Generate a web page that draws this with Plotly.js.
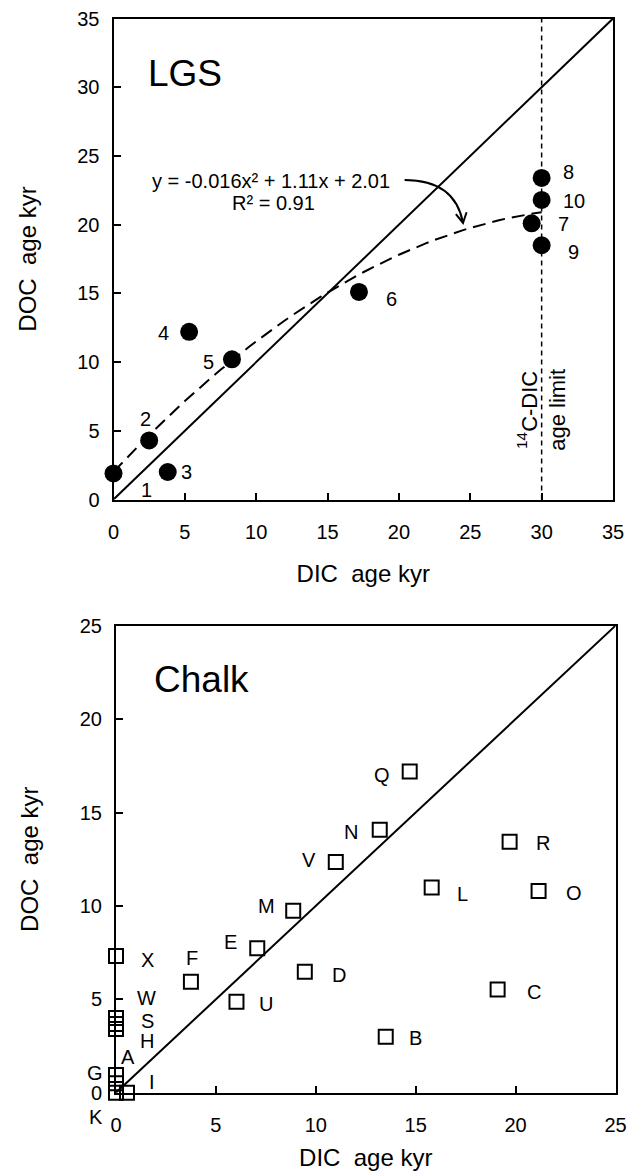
<!DOCTYPE html>
<html>
<head>
<meta charset="utf-8">
<script src="https://cdn.plot.ly/plotly-3.0.1.min.js"></script>
<style>
  html, body { margin: 0; padding: 0; background: #fff; }
  #chart { width: 640px; height: 1176px; }
</style>
</head>
<body>
<div id="chart"></div>
<script>
// LGS samples: DIC vs DOC radiocarbon ages (kyr)
const lgsNames = ['1', '2', '3', '4', '5', '6', '7', '8', '9', '10'];
const lgsDIC = [0, 2.5, 3.8, 5.3, 8.3, 17.2, 29.3, 30, 30, 30];
const lgsDOC = [1.9, 4.3, 2.0, 12.2, 10.2, 15.1, 20.1, 23.4, 18.5, 21.8];

// Quadratic fit reported for the LGS samples: y = a x^2 + b x + c
const lgsFitCoef = [-0.016, 1.11, 2.01];
const lgsFitR2 = 0.91;
const dicAgeLimit = 30;

// Chalk samples
const chalkNames = ['A', 'B', 'C', 'D', 'E', 'F', 'G', 'H', 'I', 'K', 'L',
                    'M', 'N', 'O', 'Q', 'R', 'S', 'U', 'V', 'W', 'X'];
const chalkDIC = [0, 13.5, 19.1, 9.45, 7.07, 3.75, 0, 0, 0.55, 0, 15.8,
                  8.87, 13.2, 21.15, 14.7, 19.7, 0, 6.03, 11.0, 0, 0];
const chalkDOC = [0.5, 3.0, 5.53, 6.48, 7.73, 5.94, 0.95, 3.41, 0, 0, 10.98,
                  9.74, 14.07, 10.8, 17.19, 13.44, 3.68, 4.87, 12.35, 4.0, 7.32];

// Label offsets from each marker, in pixels (dx right, dy down)
const lgsLabelDx = [33, -4, 19, -26, -23, 33, 32, 27, 32, 32];
const lgsLabelDy = [17, -21, 0, 1, 3, 7, 1, -6, 7, 1];
const chalkLabelDx = [12, 30, 36, 34, -27, 1, -21, 31, 25, -20, 31,
                      -27, -29, 35, -28, 33, 31, 30, -27, 30, 31];
const chalkLabelDy = [-26, 1, 3, 3, -6, -24, -2, 12, -11, 24, 6,
                      -5, 2, 2, 3, 1, -3, 2, -2, -20, 4];

const FONT = 'Liberation Sans, Arial, sans-serif';
const W = 640, H = 1176;

// Plot areas in pixels
const topBox = {l: 113.5, r: 613, t: 18.5, b: 499.5};
const botBox = {l: 116, r: 615.5, t: 625.7, b: 1092.7};

function dom(box) {
  return {
    x: [box.l / W, box.r / W],
    y: [1 - box.b / H, 1 - box.t / H]
  };
}
const dTop = dom(topBox), dBot = dom(botBox);

function axisStyle(domain, range, anchor, title, labelGap, titleGap) {
  return {
    domain: domain, range: range, anchor: anchor,
    dtick: 5, tick0: 0,
    showgrid: false, zeroline: false,
    showline: true, linecolor: '#000', linewidth: 2, mirror: true,
    ticks: 'inside', ticklen: 7, tickwidth: 2, tickcolor: '#000',
    tickfont: {family: FONT, size: 20, color: '#000'},
    ticklabelstandoff: labelGap,
    title: {text: title, font: {family: FONT, size: 24, color: '#000'}, standoff: titleGap},
    fixedrange: true
  };
}

// Fitted curve drawn from the reported coefficients
const fitX = [];
for (let i = 0; i <= 60; i++) fitX.push(i * dicAgeLimit / 60);
const fitY = fitX.map(x => lgsFitCoef[0] * x * x + lgsFitCoef[1] * x + lgsFitCoef[2]);

const traces = [
  // 1:1 lines
  {x: [0, 35], y: [0, 35], xaxis: 'x', yaxis: 'y', mode: 'lines',
   line: {color: '#000', width: 2}, hoverinfo: 'skip'},
  {x: [0, 25], y: [0, 25], xaxis: 'x2', yaxis: 'y2', mode: 'lines',
   line: {color: '#000', width: 2}, hoverinfo: 'skip'},
  // quadratic fit
  {x: fitX, y: fitY, xaxis: 'x', yaxis: 'y', mode: 'lines',
   line: {color: '#000', width: 2, dash: '13px,7px'}, hoverinfo: 'skip'},
  // LGS points
  {x: lgsDIC, y: lgsDOC, text: lgsNames, xaxis: 'x', yaxis: 'y', mode: 'markers',
   marker: {symbol: 'circle', size: 18, color: '#000'}, cliponaxis: false},
  // Chalk points
  {x: chalkDIC, y: chalkDOC, text: chalkNames, xaxis: 'x2', yaxis: 'y2', mode: 'markers',
   marker: {symbol: 'square-open', size: 14, color: '#000', line: {width: 2, color: '#000'}},
   cliponaxis: false}
];

const annotations = [];
function pointLabels(names, xs, ys, dx, dy, xr, yr) {
  names.forEach((n, i) => {
    annotations.push({
      x: xs[i], y: ys[i], xref: xr, yref: yr, text: n, showarrow: false,
      xshift: dx[i], yshift: -dy[i],
      font: {family: FONT, size: 20, color: '#000'}
    });
  });
}
pointLabels(lgsNames, lgsDIC, lgsDOC, lgsLabelDx, lgsLabelDy, 'x', 'y');
pointLabels(chalkNames, chalkDIC, chalkDOC, chalkLabelDx, chalkLabelDy, 'x2', 'y2');

// Panel names
annotations.push({x: 5.0, y: 31.0, xref: 'x', yref: 'y', text: 'LGS', showarrow: false,
  font: {family: FONT, size: 37, color: '#000'}});
annotations.push({x: 4.3, y: 22.1, xref: 'x2', yref: 'y2', text: 'Chalk', showarrow: false,
  font: {family: FONT, size: 37, color: '#000'}});

// Fit equation
const eqText = 'y = ' + lgsFitCoef[0].toFixed(3) + 'x\u00b2 + ' + lgsFitCoef[1].toFixed(2) +
               'x + ' + lgsFitCoef[2].toFixed(2);
annotations.push({x: 11.05, y: 23.15, xref: 'x', yref: 'y', text: eqText, showarrow: false,
  font: {family: FONT, size: 20, color: '#000'}});
annotations.push({x: 11.2, y: 21.6, xref: 'x', yref: 'y', text: 'R\u00b2 = ' + lgsFitR2.toFixed(2),
  showarrow: false, font: {family: FONT, size: 20, color: '#000'}});

// DIC age limit note
annotations.push({x: dicAgeLimit, y: 6.5, xref: 'x', yref: 'y',
  text: '<sup>14</sup>C-DIC<br>age limit', textangle: -90, showarrow: false,
  font: {family: FONT, size: 22, color: '#000'}});

const shapes = [
  // radiocarbon limit of DIC dating
  {type: 'line', xref: 'x', yref: 'y', x0: dicAgeLimit, x1: dicAgeLimit, y0: 0, y1: 35,
   line: {color: '#000', width: 1.5, dash: '5px,4px'}},
  // curved pointer from the equation to the fit curve, with an open arrowhead
  {type: 'path', xref: 'x', yref: 'y', path: 'M 20.4 23.25 Q 23.93 23.25 24.49 20.12',
   line: {color: '#000', width: 2}},
  {type: 'path', xref: 'x', yref: 'y', path: 'M 24.74 20.9 L 24.49 20.12 L 23.99 20.76',
   line: {color: '#000', width: 2}}
];

const layout = {
  width: W, height: H,
  margin: {l: 0, r: 0, t: 0, b: 0},
  paper_bgcolor: '#fff', plot_bgcolor: '#fff',
  showlegend: false,
  xaxis: axisStyle(dTop.x, [0, 35], 'y', 'DIC\u00a0 age kyr', 13, 24),
  yaxis: axisStyle(dTop.y, [0, 35], 'x', 'DOC\u00a0 age kyr', 8, 34),
  xaxis2: axisStyle(dBot.x, [0, 25], 'y2', 'DIC\u00a0 age kyr', 13, 14),
  yaxis2: axisStyle(dBot.y, [0, 25], 'x2', 'DOC\u00a0 age kyr', 8, 34),
  annotations: annotations,
  shapes: shapes
};

Plotly.newPlot('chart', traces, layout, {staticPlot: true, displayModeBar: false});
</script>
</body>
</html>
